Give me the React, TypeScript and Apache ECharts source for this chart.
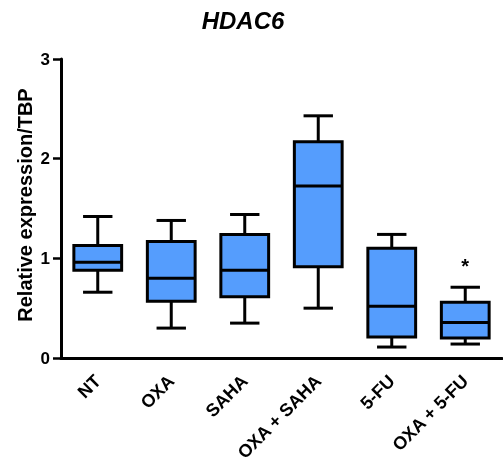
import React, { useEffect, useRef } from "react";
import * as echarts from "echarts";

const categories = ["NT", "OXA", "SAHA", "OXA + SAHA", "5-FU", "OXA + 5-FU"];
// [min, Q1, median, Q3, max]
const mins = [0.66, 0.30, 0.35, 0.50, 0.11, 0.14];
const q1s = [0.88, 0.57, 0.615, 0.915, 0.21, 0.20];
const medians = [0.96, 0.80, 0.88, 1.725, 0.52, 0.355];
const q3s = [1.13, 1.17, 1.24, 2.17, 1.10, 0.56];
const maxs = [1.42, 1.38, 1.44, 2.43, 1.24, 0.71];
const marks = ["", "", "", "", "", "*"];
const yTicks = [0, 1, 2, 3];
const yTitle = "Relative expression/TBP";

const FILL = "#559dfd";
const FONT = "Arial, 'Liberation Sans', sans-serif";

export default function App() {
  const ref = useRef<HTMLDivElement>(null);
  useEffect(() => {
    if (!ref.current) return;
    const chart = echarts.init(ref.current, null, { renderer: "svg" });
    const data = categories.map((c, i) => [i, mins[i], q1s[i], medians[i], q3s[i], maxs[i]]);
    const option = {
      animation: false,
      title: {
        text: "HDAC6",
        left: 238,
        top: 3,
        textAlign: "center",
        textStyle: {
          fontFamily: FONT,
          fontSize: 24,
          fontWeight: "bold",
          fontStyle: "italic",
          color: "#000",
        },
      },
      graphic: [
        {
          type: "text",
          x: 25,
          y: 205,
          rotation: Math.PI / 2,
          style: {
            text: yTitle,
            fill: "#000",
            font: "bold 20px " + FONT,
            textAlign: "center",
            textVerticalAlign: "middle",
          },
        },
      ],
      grid: {
        left: 61,
        right: 1,
        top: 59,
        bottom: 111,
        containLabel: false,
        outerBoundsMode: "none",
      },
      xAxis: {
        type: "category",
        data: categories,
        axisLine: { lineStyle: { color: "#000", width: 3 } },
        axisTick: { alignWithLabel: true, length: 7, lineStyle: { color: "#000", width: 2.5 } },
        axisLabel: {
          rotate: 45,
          margin: 20,
          interval: 0,
          color: "#000",
          fontFamily: FONT,
          fontWeight: "bold",
          fontSize: 18,
        },
        splitLine: { show: false },
      },
      yAxis: {
        type: "value",
        min: yTicks[0],
        max: yTicks[yTicks.length - 1],
        interval: 1,
        axisLine: { show: true, lineStyle: { color: "#000", width: 3 } },
        axisTick: { show: true, length: 8, lineStyle: { color: "#000", width: 2.5 } },
        axisLabel: {
          margin: 11,
          color: "#000",
          fontFamily: FONT,
          fontWeight: "bold",
          fontSize: 17,
        },
        splitLine: { show: false },
      },
      series: [
        {
          type: "custom",
          data,
          renderItem: (params: any, api: any) => {
            const idx = api.value(0);
            const x = api.coord([idx, 0])[0];
            const yMin = api.coord([idx, api.value(1)])[1];
            const yQ1 = api.coord([idx, api.value(2)])[1];
            const yMed = api.coord([idx, api.value(3)])[1];
            const yQ3 = api.coord([idx, api.value(4)])[1];
            const yMax = api.coord([idx, api.value(5)])[1];
            const band = api.size([1, 0])[0];
            const bw = band * 0.65;
            const cw = band * 0.4;
            const lineStyle = { stroke: "#000", lineWidth: 3 };
            const children: any[] = [
              { type: "line", shape: { x1: x, y1: yQ3, x2: x, y2: yMax }, style: lineStyle },
              { type: "line", shape: { x1: x, y1: yQ1, x2: x, y2: yMin }, style: lineStyle },
              { type: "line", shape: { x1: x - cw / 2, y1: yMax, x2: x + cw / 2, y2: yMax }, style: lineStyle },
              { type: "line", shape: { x1: x - cw / 2, y1: yMin, x2: x + cw / 2, y2: yMin }, style: lineStyle },
              {
                type: "rect",
                shape: { x: x - bw / 2, y: yQ3, width: bw, height: yQ1 - yQ3 },
                style: { fill: FILL, stroke: "#000", lineWidth: 3 },
              },
              { type: "line", shape: { x1: x - bw / 2, y1: yMed, x2: x + bw / 2, y2: yMed }, style: lineStyle },
            ];
            const m = marks[idx];
            if (m) {
              children.push({
                type: "text",
                x: x,
                y: yMax - 21,
                style: {
                  text: m,
                  fill: "#000",
                  font: "bold 20px " + FONT,
                  textAlign: "center",
                  textVerticalAlign: "middle",
                },
              });
            }
            return { type: "group", children };
          },
        },
      ],
    };
    chart.setOption(option as any);
    return () => chart.dispose();
  }, []);
  return (
    <div
      ref={ref}
      style={{ position: "fixed", left: 0, top: 0, width: 503, height: 469 }}
    />
  );
}
